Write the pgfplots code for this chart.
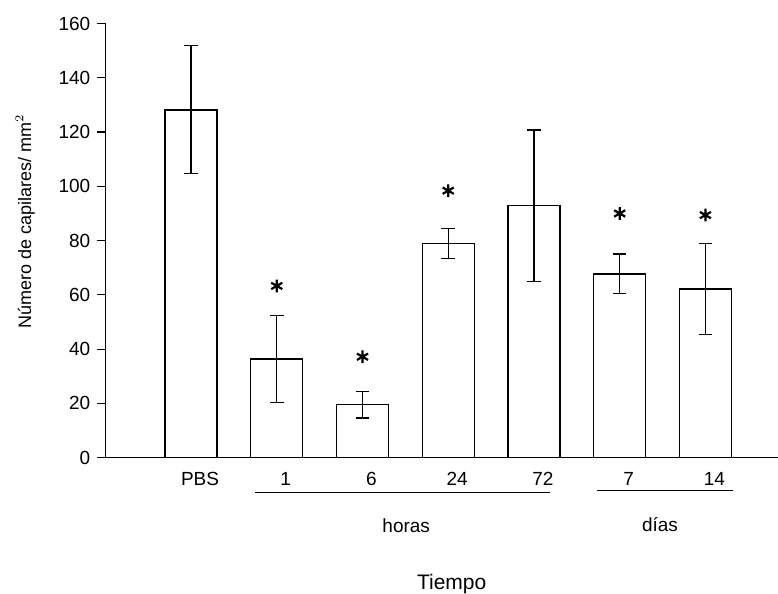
\documentclass[border=0pt]{standalone}
\usepackage{fontspec}
\setmainfont{Liberation Sans}
\usepackage{pgfplots}
\pgfplotsset{compat=1.18}
\usepackage{pgfplotstable}

\pgfplotstableread{
x  y      ep    em
0  128.1  23.9  23.3
1  36.4   15.9  16.1
2  19.5   4.8   4.8
3  79.0   5.4   5.5
4  93.0   27.7  28.0
5  67.7   7.3   7.3
6  62.2   16.8  16.7
}\capilares

\pgfplotstableread{
x  y
1  63.3
2  37.2
3  98.4
5  90.0
6  89.4
}\signif

\begin{document}
\begin{tikzpicture}
\begin{axis}[
  name=ax, at={(0,0)}, anchor=south west,
  scale only axis, width=336.5pt, height=217.1pt,
  xmin=-1, xmax=6.85, ymin=0, ymax=160,
  axis lines*=left, axis line style={line width=0.7pt},
  clip=false,
  ytick={0,20,...,160},
  tick align=outside, major tick length=4pt,
  major tick style={line width=0.6pt, black},
  y tick label style={font=\fontsize{9.5}{11}\selectfont},
  /pgf/number format/assume math mode=true,
  xtick={0,...,6},
  xticklabels={PBS,1,6,24,72,7,14},
  x tick style={draw=none},
  x tick label style={font=\fontsize{9.5}{11}\selectfont, text height=6.9pt, xshift=4.5pt, yshift=0.5pt},
  ylabel={Número de capilares/ mm$^2$},
  ylabel style={font=\fontsize{9}{11}\selectfont, at={(axis description cs:-0.1189,0.545)}, anchor=center},
  xlabel={Tiempo},
  xlabel style={font=\fontsize{10.5}{12}\selectfont, at={(axis cs:3.04,-48.7)}, anchor=base},
]
\addplot[ybar, bar width=26pt, fill=white, draw=black, line width=0.6pt,
  error bars/.cd, y dir=both, y explicit,
  error bar style={line width=0.7pt, black},
  error mark options={rotate=90, mark size=3.4pt, line width=0.7pt, black}]
  table[x=x, y=y, y error plus=ep, y error minus=em] {\capilares};
\addplot[only marks, mark=asterisk, mark size=3.2pt, line width=1.1pt, black]
  table[x=x, y=y] {\signif};

\draw[line width=0.6pt] (axis cs:0.747,-12.9) -- (axis cs:4.19,-12.9);
\draw[line width=0.6pt] (axis cs:4.73,-12.2) -- (axis cs:6.32,-12.2);
\node[anchor=base, font=\fontsize{9.5}{11}\selectfont] at (axis cs:2.51,-27.6) {horas};
\node[anchor=base, font=\fontsize{9.5}{11}\selectfont] at (axis cs:5.47,-27.3) {días};
\end{axis}
\pgfresetboundingbox
\path (-52.65pt,-68.15pt) rectangle (336.35pt,228.85pt);
\end{tikzpicture}
\end{document}
